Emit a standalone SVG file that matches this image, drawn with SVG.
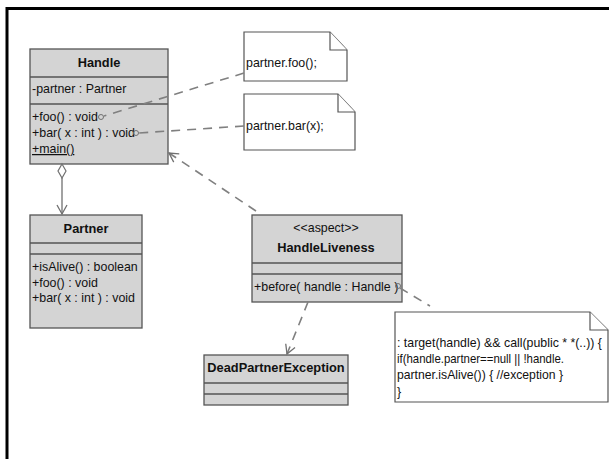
<svg xmlns="http://www.w3.org/2000/svg" width="609" height="459" viewBox="0 0 609 459">
<defs>
<style>
text{font-family:"Liberation Sans",Arial,sans-serif;font-size:12.4px;fill:#111}
.b{font-weight:bold;font-size:12.8px}
.box{fill:#d4d4d4;stroke:#555;stroke-width:1.3}
.note{fill:#fff;stroke:#555;stroke-width:1.2}
.dash{fill:none;stroke:#808080;stroke-width:1.6;stroke-dasharray:9,7}
.sol{fill:none;stroke:#707070;stroke-width:1.3}
.anchor{fill:none;stroke:#707070;stroke-width:1}
</style>
<marker id="open" markerWidth="12" markerHeight="12" refX="10" refY="6" orient="auto" markerUnits="userSpaceOnUse">
<path d="M1,1 L10,6 L1,11" fill="none" stroke="#707070" stroke-width="1.3"/>
</marker>
</defs>
<rect x="0" y="0" width="609" height="459" fill="#fff"/>
<path d="M7,459 V8.5 H609" fill="none" stroke="#000" stroke-width="3"/>

<g id="Handle">
<rect class="box" x="30" y="49" width="138" height="115"/>
<line class="box" x1="30" y1="77" x2="168" y2="77"/>
<line class="box" x1="30" y1="104" x2="168" y2="104"/>
<text class="b" x="99" y="67" text-anchor="middle">Handle</text>
<text x="32" y="93">-partner : Partner</text>
<text x="32" y="121">+foo() : void</text>
<text x="32" y="137">+bar( x : int ) : void</text>
<text x="32" y="153" text-decoration="underline">+main()</text>
</g>

<g id="Partner">
<rect class="box" x="30" y="215" width="112" height="113"/>
<line class="box" x1="30" y1="243" x2="142" y2="243"/>
<line class="box" x1="30" y1="254" x2="142" y2="254"/>
<text class="b" x="86" y="233" text-anchor="middle">Partner</text>
<text x="32" y="271">+isAlive() : boolean</text>
<text x="32" y="287">+foo() : void</text>
<text x="32" y="302">+bar( x : int ) : void</text>
</g>

<g id="note-foo">
<path class="note" d="M244,32 H330 L347,50 V81 H244 Z"/>
<path class="note" d="M330,32 V50 H347" fill="none"/>
<text x="246" y="67">partner.foo();</text>
</g>

<g id="note-bar">
<path class="note" d="M244,94 H338 L355,112 V150 H244 Z"/>
<path class="note" d="M338,94 V112 H355" fill="none"/>
<text x="246" y="130">partner.bar(x);</text>
</g>

<g id="HandleLiveness">
<rect class="box" x="252" y="215" width="150" height="87"/>
<line class="box" x1="252" y1="263" x2="402" y2="263"/>
<line class="box" x1="252" y1="274" x2="402" y2="274"/>
<text x="326" y="232" text-anchor="middle" font-size="11">&lt;&lt;aspect&gt;&gt;</text>
<text class="b" x="326" y="252" text-anchor="middle">HandleLiveness</text>
<text x="254" y="291">+before( handle : Handle )</text>
</g>

<g id="DeadPartnerException">
<rect class="box" x="204" y="355" width="144" height="50"/>
<line class="box" x1="204" y1="383" x2="348" y2="383"/>
<line class="box" x1="204" y1="394" x2="348" y2="394"/>
<text class="b" x="276" y="372" text-anchor="middle">DeadPartnerException</text>
</g>

<g id="note-pointcut">
<path class="note" d="M395,312 H590 L608,330 V402 H395 Z"/>
<path class="note" d="M590,312 V330 H608" fill="none"/>
<text x="397" y="347" textLength="205" lengthAdjust="spacingAndGlyphs">: target(handle) &amp;&amp; call(public * *(..)) {</text>
<text x="397" y="363" textLength="167" lengthAdjust="spacingAndGlyphs">if(handle.partner==null || !handle.</text>
<text x="397" y="379" textLength="166" lengthAdjust="spacingAndGlyphs">partner.isAlive()) { //exception }</text>
<text x="397" y="396">}</text>
</g>

<g id="connectors">
<path class="dash" d="M244,73 L104,116"/>
<circle class="anchor" cx="101" cy="117" r="2.5"/>
<path class="dash" d="M244,126 L139,133"/>
<circle class="anchor" cx="136" cy="133" r="2.5"/>
<path class="dash" d="M256,211 L169,153" marker-end="url(#open)"/>
<path class="dash" d="M308,302 L287,354" marker-end="url(#open)"/>
<path class="dash" d="M400,288 L430,306"/>
<circle class="anchor" cx="398" cy="286" r="2.5"/>
<path d="M62,164 L66,171 L62,178 L58,171 Z" fill="#fff" stroke="#707070" stroke-width="1.2"/>
<path class="sol" d="M62,178 L62,214" marker-end="url(#open)"/>
</g>
</svg>
